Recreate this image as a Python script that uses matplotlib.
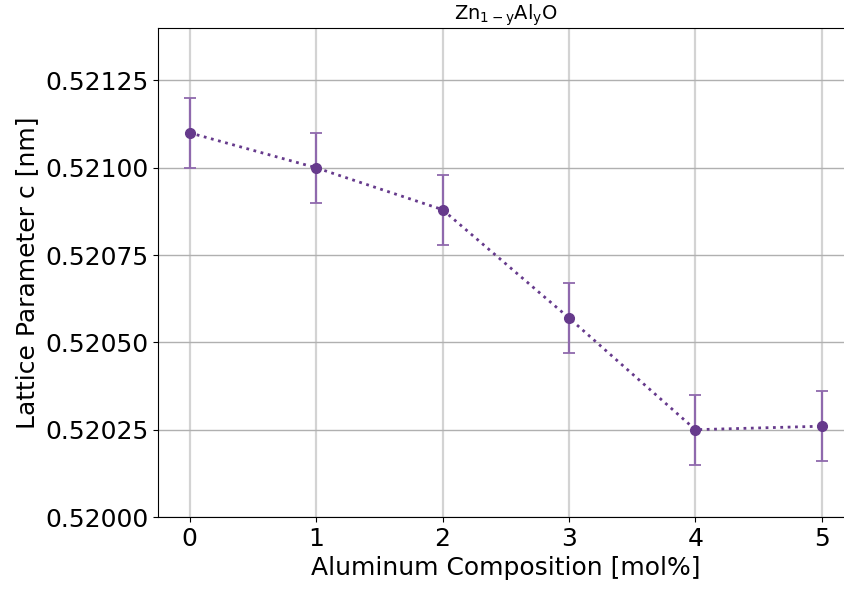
import matplotlib.pyplot as plt

composition = [0, 1, 2, 3, 4, 5]
lattice_c = [0.52110, 0.52100, 0.52088, 0.52057, 0.52025, 0.52026]
lattice_err = [0.0001, 0.0001, 0.0001, 0.0001, 0.0001, 0.0001]
yticks = [0.52000, 0.52025, 0.52050, 0.52075, 0.52100, 0.52125]

color = "#663a8c"

fig = plt.figure(figsize=(8.45, 5.9), dpi=100)
ax = fig.add_axes([0.187, 0.1237, 0.823, 0.8288])

ax.errorbar(composition, lattice_c, yerr=lattice_err, fmt="o", color=color,
            markersize=7, ecolor="#8f69ad", elinewidth=1.6, capsize=4, capthick=1.3,
            zorder=3)
ax.plot(composition, lattice_c, ":", color=color, linewidth=2, zorder=2)

ax.set_xlim(-0.25, 5.25)
ax.set_ylim(0.52, 0.52140)
ax.set_yticks(yticks)
ax.set_yticklabels(["%.5f" % v for v in yticks])
ax.set_xticks(composition)

ax.xaxis.grid(True, color="#d3d3d3", linewidth=1.6)
ax.yaxis.grid(True, color="#b0b0b0", linewidth=1.0)
ax.set_axisbelow(True)

ax.tick_params(labelsize=18)
ax.set_xlabel("Aluminum Composition [mol%]", fontsize=18)
ax.set_ylabel("Lattice Parameter c [nm]", fontsize=18)
ax.set_title(r"Zn$_{\mathregular{1-y}}$Al$_{\mathregular{y}}$O", fontsize=14, pad=5)

fig.savefig("out.png", dpi=100)
